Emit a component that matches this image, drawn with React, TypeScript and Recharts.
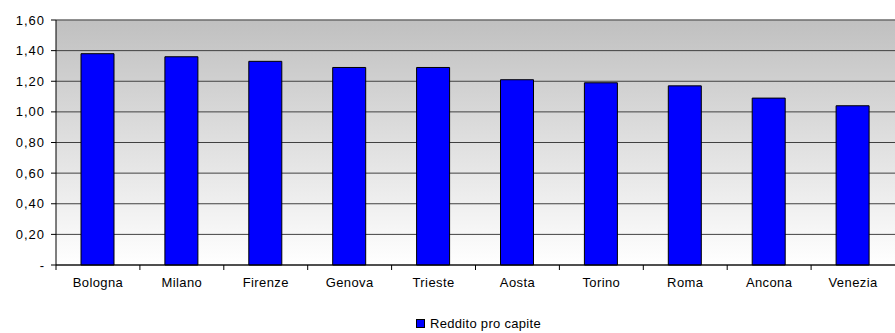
import { BarChart, Bar, XAxis, YAxis, CartesianGrid, Legend, ReferenceLine } from 'recharts'

const cities = ['Bologna', 'Milano', 'Firenze', 'Genova', 'Trieste', 'Aosta', 'Torino', 'Roma', 'Ancona', 'Venezia']
const reddito = [1.38, 1.36, 1.33, 1.29, 1.29, 1.21, 1.19, 1.17, 1.09, 1.04]
const yTicks = [0, 0.2, 0.4, 0.6, 0.8, 1.0, 1.2, 1.4, 1.6]

const data = cities.map((c, i) => ({ name: c, value: reddito[i] }))

const W = 895
const H = 333
const Y_AXIS_W = 56
const band = (W - Y_AXIS_W) / cities.length
const font = '"Liberation Sans", Arial, sans-serif'

const fmt = (v: number) => (v === 0 ? '-' : v.toFixed(2).replace('.', ','))

// label at the category centre, tick mark at the left boundary of the category
function XTick(props: any) {
  const { x, y, payload } = props
  const axisY = y - 13
  return (
    <g>
      <line x1={x - band / 2} x2={x - band / 2} y1={axisY} y2={axisY + 5} stroke="#000" />
      <text x={x} y={y} dy="0.71em" textAnchor="middle" fontSize={13} fill="#000" fontFamily={font} letterSpacing={0.4}>
        {payload.value}
      </text>
    </g>
  )
}

function LegendBox() {
  return (
    <div style={{ display: 'flex', justifyContent: 'center', alignItems: 'center', fontFamily: font, fontSize: 13, letterSpacing: 0.3, paddingTop: 19, paddingLeft: 62, height: 38, boxSizing: 'border-box' }}>
      <span style={{ width: 7, height: 7, background: '#0000ff', border: '1px solid #000', marginRight: 5, display: 'inline-block' }} />
      <span>Reddito pro capite</span>
    </div>
  )
}

export default function App() {
  return (
    <div style={{ position: 'absolute', left: 0, top: 0, width: W, height: H, background: '#fff' }}>
      <svg width={0} height={0} style={{ position: 'absolute' }}>
        <defs>
          <linearGradient id="bgGrad" x1="0" y1="0" x2="0" y2="1">
            <stop offset="0%" stopColor="#c0c0c0" />
            <stop offset="100%" stopColor="#ffffff" />
          </linearGradient>
        </defs>
      </svg>
      <BarChart width={W} height={H} data={data} margin={{ top: 20, right: 0, left: 0, bottom: 0 }} barSize={33}>
        <CartesianGrid vertical={false} stroke="#404040" fill="url(#bgGrad)" />
        <XAxis
          dataKey="name"
          height={30}
          axisLine={{ stroke: '#000' }}
          tickLine={false}
          tickSize={5}
          tickMargin={8}
          interval={0}
          tick={<XTick />}
        />
        <YAxis
          width={Y_AXIS_W}
          domain={[0, 1.6]}
          ticks={yTicks}
          tickFormatter={fmt}
          axisLine={{ stroke: '#000' }}
          tickLine={{ stroke: '#000' }}
          tickSize={5}
          tickMargin={6}
          tick={{ fontSize: 13, fill: '#000', fontFamily: font, letterSpacing: 1 }}
        />
        <ReferenceLine y={1.6} stroke="#808080" />
        <Bar dataKey="value" name="Reddito pro capite" fill="#0000ff" stroke="#000" strokeWidth={1} isAnimationActive={false} />
        <Legend verticalAlign="bottom" content={<LegendBox />} />
      </BarChart>
    </div>
  )
}
